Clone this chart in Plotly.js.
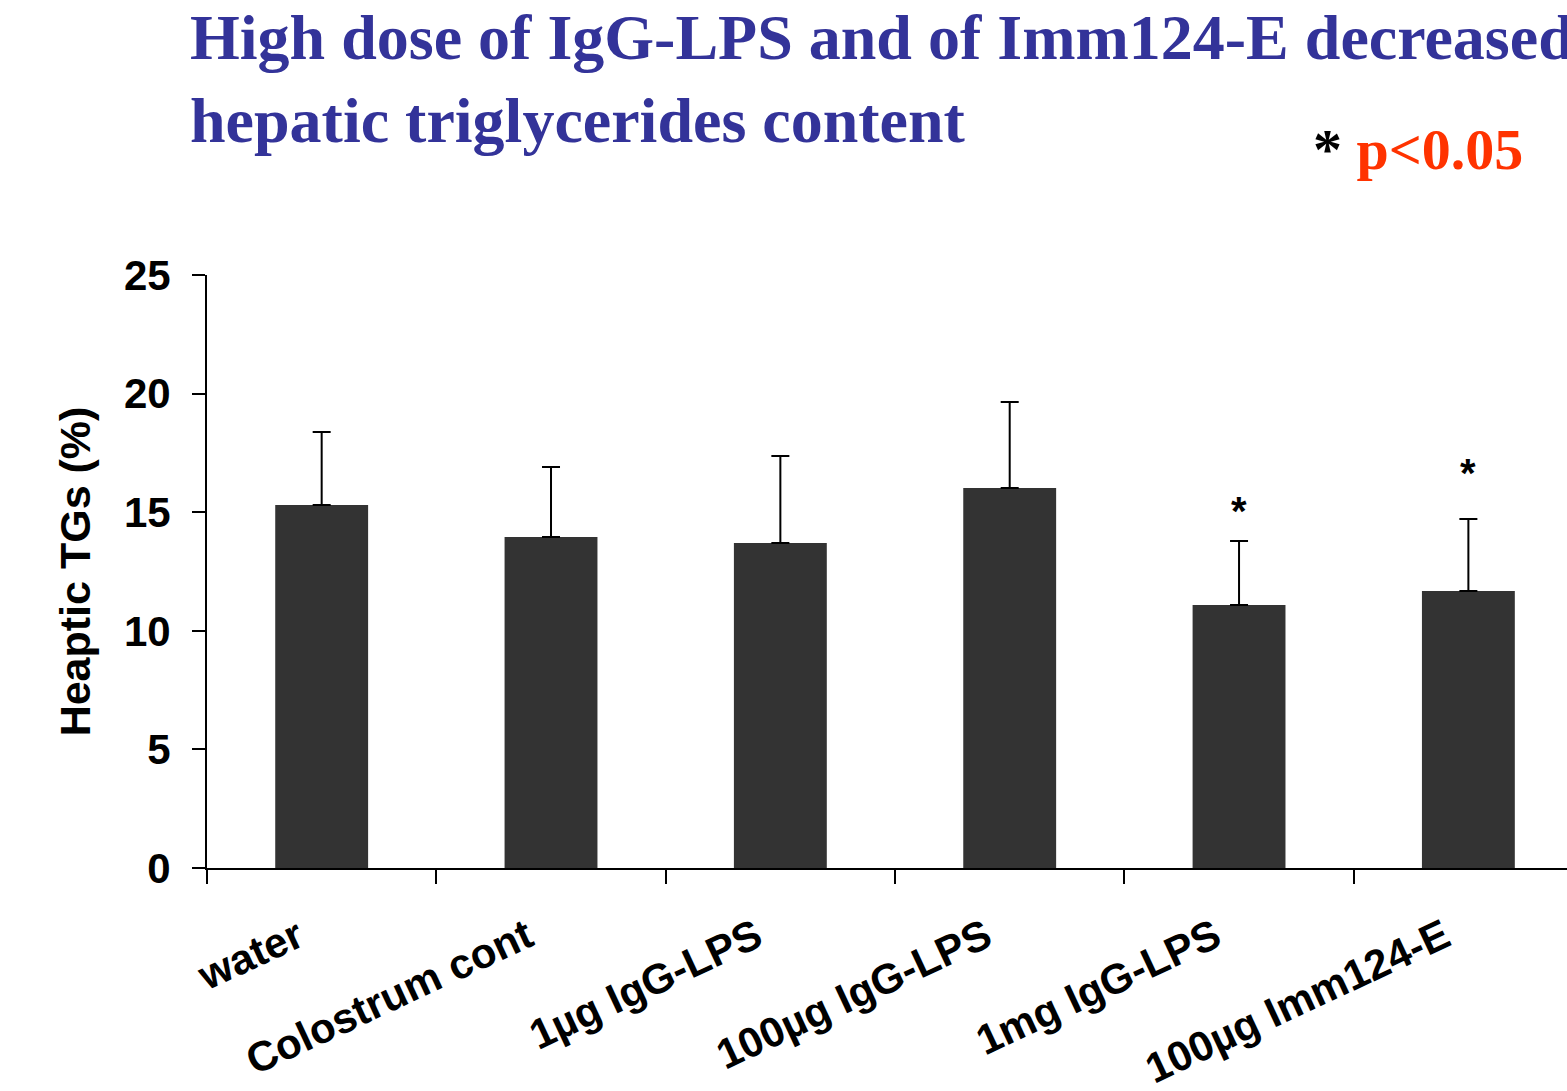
<!DOCTYPE html>
<html>
<head>
<meta charset="utf-8">
<script src="https://cdn.plot.ly/plotly-3.0.1.min.js"></script>
<style>html,body{margin:0;padding:0;background:#fff;}#chart{width:1567px;height:1091px;}</style>
</head>
<body>
<div id="chart"></div>
<script>
// Data
const categories = ["water", "Colostrum cont", "1µg IgG-LPS", "100µg IgG-LPS", "1mg IgG-LPS", "100µg Imm124-E"];
const meanTG = [15.30, 13.95, 13.70, 16.02, 11.09, 11.68];
const semTG = [3.08, 2.96, 3.67, 3.63, 2.70, 3.03];
const significance = ["", "", "", "", "*", "*"];
const starLevel = [null, null, null, null, 15.05, 16.65];
const yTicks = [0, 5, 10, 15, 20, 25];

const sansBold = {family: "'Liberation Sans', Arial, sans-serif", weight: "bold", color: "#000"};

const barTrace = {
  type: "bar",
  x: categories,
  y: meanTG,
  marker: {color: "#333333", line: {width: 0}},
  error_y: {
    type: "data",
    symmetric: false,
    array: semTG,
    arrayminus: semTG.map(() => 0),
    color: "#000",
    thickness: 2,
    width: 9
  },
  hoverinfo: "skip"
};

const annotations = [];
categories.forEach((c, i) => {
  if (significance[i]) {
    annotations.push({
      x: c, y: starLevel[i], xref: "x", yref: "y",
      text: significance[i], showarrow: false,
      xanchor: "center", yanchor: "middle",
      font: Object.assign({}, sansBold, {size: 40})
    });
  }
});
annotations.push({
  xref: "paper", yref: "paper", x: 0.812, y: 1.211,
  xanchor: "left", yanchor: "middle", showarrow: false,
  text: '<span style="color:#000">*</span> <span style="color:#ff3300">p&lt;0.05</span>',
  font: {family: "'Liberation Serif', 'Times New Roman', serif", weight: "bold", size: 58, color: "#ff3300"}
});

const layout = {
  width: 1567, height: 1091,
  paper_bgcolor: "#fff", plot_bgcolor: "#fff",
  margin: {l: 207, r: 0, t: 275, b: 223},
  showlegend: false,
  bargap: 0.595,
  title: {
    text: "High dose of IgG-LPS and of Imm124-E decreased<br>hepatic triglycerides content",
    font: {family: "'Liberation Serif', 'Times New Roman', serif", weight: "bold", size: 64, color: "#333399"},
    xref: "container", yref: "container",
    x: 190 / 1567, xanchor: "left",
    y: 0.946, yanchor: "top"
  },
  xaxis: {
    type: "category",
    range: [-0.5, 5.43],
    showline: true, linecolor: "#000", linewidth: 2,
    ticks: "outside", tickson: "boundaries", ticklen: 14, tickwidth: 2, tickcolor: "#000",
    tickangle: -25,
    tickfont: Object.assign({}, sansBold, {size: 42}),
    ticklabelstandoff: 26,
    ticklabelshift: -24,
    showgrid: false, zeroline: false,
    automargin: false
  },
  yaxis: {
    range: [0, 25],
    tickvals: yTicks,
    ticktext: yTicks.map(String),
    showline: true, linecolor: "#000", linewidth: 2,
    ticks: "outside", ticklen: 13, tickwidth: 2, tickcolor: "#000",
    tickfont: Object.assign({}, sansBold, {size: 42}),
    ticklabelstandoff: 13,
    showgrid: false, zeroline: false,
    automargin: false,
    title: {text: "Heaptic TGs (%)", font: Object.assign({}, sansBold, {size: 43}), standoff: 20}
  },
  annotations: annotations
};

Plotly.newPlot("chart", [barTrace], layout, {displayModeBar: false, staticPlot: true});
</script>
</body>
</html>
